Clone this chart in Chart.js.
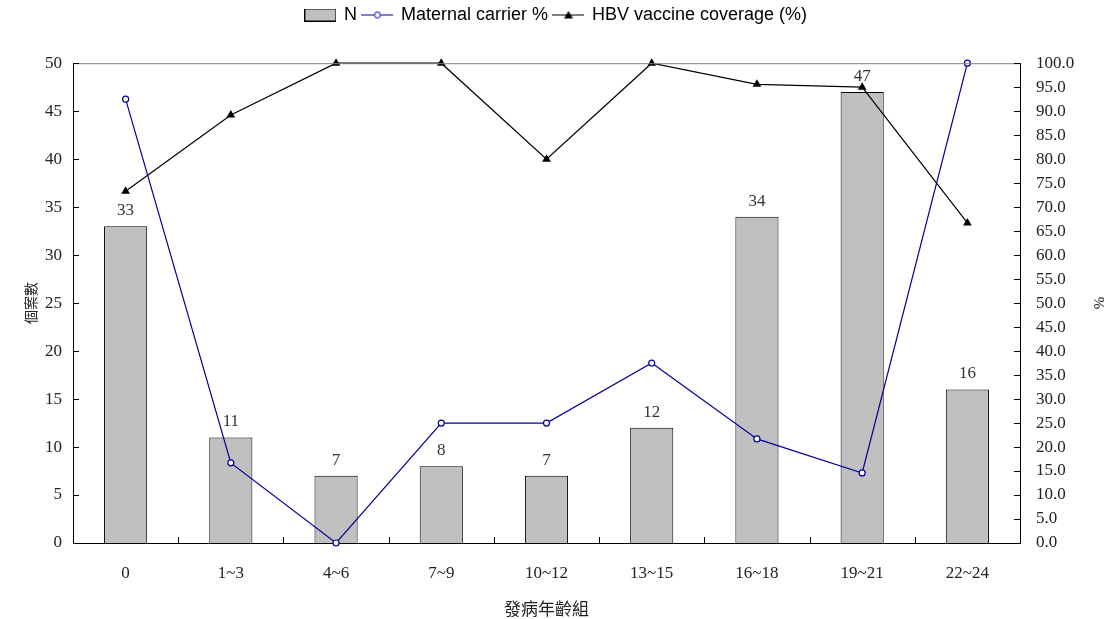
<!DOCTYPE html>
<html>
<head>
<meta charset="utf-8">
<script src="https://cdn.jsdelivr.net/npm/chart.js@4/dist/chart.umd.min.js"></script>
<style>
  html, body { margin: 0; padding: 0; background: #fff; }
  #wrap { width: 1113px; height: 619px; }
</style>
</head>
<body>
<div id="wrap"><canvas id="chart"></canvas></div>
<script>
"use strict";

// data
var ageGroups = ["0", "1~3", "4~6", "7~9", "10~12", "13~15", "16~18", "19~21", "22~24"];
var caseCounts = [33, 11, 7, 8, 7, 12, 34, 47, 16];
var maternalCarrier = [92.5, 16.7, 0, 25.0, 25.0, 37.5, 21.7, 14.6, 100];
var vaccineCoverage = [73.3, 89.2, 100, 100, 80.0, 100, 95.6, 95.0, 66.7];

var serif = "'Liberation Serif', 'Times New Roman', serif";
var sans = "'Liberation Sans', Arial, sans-serif";
var cjk = "'Noto Sans CJK TC', 'Noto Sans CJK SC', sans-serif";
var navy = "#000099";

// little pictures for the legend (line + marker / box)
function legendIcon(kind) {
  var c = document.createElement("canvas");
  c.width = 32;
  c.height = 13;
  var g = c.getContext("2d");
  if (kind == "bar") {
    g.fillStyle = "#c0c0c0";
    g.fillRect(0, 0, 32, 13);
    g.strokeStyle = "#000";
    g.lineWidth = 1;
    g.strokeRect(0.5, 0.5, 31, 12);
  } else {
    var col = kind == "circle" ? navy : "#000";
    g.strokeStyle = col;
    g.lineWidth = 1;
    g.beginPath();
    g.moveTo(0, 6.5);
    g.lineTo(32, 6.5);
    g.stroke();
    if (kind == "circle") {
      g.beginPath();
      g.arc(16, 6.5, 3, 0, Math.PI * 2);
      g.fillStyle = "#fff";
      g.fill();
      g.stroke();
    } else {
      g.beginPath();
      g.moveTo(16, 2.5);
      g.lineTo(20.5, 10);
      g.lineTo(11.5, 10);
      g.closePath();
      g.fillStyle = "#000";
      g.fill();
    }
  }
  return c;
}
var icons = [legendIcon("bar"), legendIcon("circle"), legendIcon("tri")];

// inside tick marks, frame top line and value labels over the bars
var decorations = {
  id: "decorations",
  afterDatasetsDraw: function(chart) {
    var ctx = chart.ctx;
    var area = chart.chartArea;
    var x = chart.scales.x, y = chart.scales.y, y1 = chart.scales.y1;
    ctx.save();
    ctx.lineWidth = 1;
    ctx.strokeStyle = "#808080";
    ctx.beginPath();
    ctx.moveTo(area.left, area.top + 0.5);
    ctx.lineTo(area.right, area.top + 0.5);
    ctx.stroke();

    ctx.strokeStyle = "#000";
    ctx.beginPath();
    y.ticks.forEach(function(t) {
      var py = Math.round(y.getPixelForValue(t.value)) + 0.5;
      ctx.moveTo(area.left, py);
      ctx.lineTo(area.left + 6, py);
    });
    y1.ticks.forEach(function(t) {
      var py = Math.round(y1.getPixelForValue(t.value)) + 0.5;
      ctx.moveTo(area.right, py);
      ctx.lineTo(area.right - 6, py);
    });
    for (var i = 0; i < ageGroups.length - 1; i++) {
      var px = Math.round((x.getPixelForValue(i) + x.getPixelForValue(i + 1)) / 2) + 0.5;
      ctx.moveTo(px, area.bottom);
      ctx.lineTo(px, area.bottom - 6);
    }
    ctx.stroke();

    var meta = chart.getDatasetMeta(0);
    ctx.fillStyle = "#333";
    ctx.font = "17px " + serif;
    ctx.textAlign = "center";
    ctx.textBaseline = "bottom";
    meta.data.forEach(function(bar, i) {
      ctx.fillText(String(caseCounts[i]), bar.x, bar.y - 7);
    });
    ctx.restore();
  }
};

var ctx = document.getElementById("chart").getContext("2d");
var myChart = new Chart(ctx, {
  type: "bar",
  data: {
    labels: ageGroups,
    datasets: [{
      label: "N",
      data: caseCounts,
      yAxisID: "y",
      backgroundColor: "#c0c0c0",
      borderColor: "#000",
      borderWidth: 1,
      barPercentage: 0.41,
      categoryPercentage: 1,
      order: 3
    }, {
      type: "line",
      label: "Maternal carrier %",
      data: maternalCarrier,
      yAxisID: "y1",
      borderColor: navy,
      borderWidth: 1.2,
      pointStyle: "circle",
      pointRadius: 3,
      pointBackgroundColor: "#fff",
      pointBorderColor: navy,
      pointBorderWidth: 1.2,
      tension: 0,
      clip: false,
      order: 1
    }, {
      type: "line",
      label: "HBV vaccine coverage (%)",
      data: vaccineCoverage,
      yAxisID: "y1",
      borderColor: "#000",
      borderWidth: 1.2,
      pointStyle: "triangle",
      pointRadius: 5,
      pointBackgroundColor: "#000",
      pointBorderColor: "#000",
      pointBorderWidth: 0,
      tension: 0,
      clip: false,
      order: 2
    }]
  },
  options: {
    responsive: true,
    maintainAspectRatio: false,
    animation: false,
    layout: { padding: 0 },
    plugins: {
      legend: {
        position: "top",
        labels: {
          usePointStyle: true,
          pointStyleWidth: 29,
          padding: 6,
          color: "#000",
          font: { family: sans, size: 18 },
          generateLabels: function(chart) {
            return chart.data.datasets.map(function(ds, i) {
              return {
                text: ds.label,
                pointStyle: icons[i],
                fillStyle: "#fff",
                strokeStyle: "#fff",
                lineWidth: 0,
                hidden: false,
                datasetIndex: i
              };
            });
          }
        }
      },
      subtitle: {
        display: true,
        text: "",
        weight: 500,
        font: { size: 1 },
        padding: { top: 28, bottom: 0 }
      },
      tooltip: { enabled: false }
    },
    scales: {
      x: {
        offset: true,
        grid: { display: false, drawTicks: false },
        border: { display: true, color: "#000", width: 1 },
        ticks: { color: "#222", font: { family: serif, size: 17 }, padding: 20 },
        title: { display: true, text: "發病年齡組", color: "#222", font: { family: cjk, size: 17 }, padding: { top: 3, bottom: 0 } },
        afterFit: function(scale) { scale.height = 76; }
      },
      y: {
        position: "left",
        min: 0,
        max: 50,
        ticks: { stepSize: 5, color: "#222", font: { family: serif, size: 17 }, padding: 11 },
        grid: { display: false, drawTicks: false },
        border: { display: true, color: "#000", width: 1 },
        title: { display: true, text: "個案數", color: "#222", font: { family: cjk, size: 14 }, padding: { top: 22, bottom: 0 } },
        afterFit: function(scale) { scale.width = 73; }
      },
      y1: {
        position: "right",
        min: 0,
        max: 100,
        ticks: {
          stepSize: 5,
          color: "#222",
          font: { family: serif, size: 17 },
          padding: 16,
          callback: function(v) { return Number(v).toFixed(1); }
        },
        grid: { display: false, drawTicks: false },
        border: { display: true, color: "#000", width: 1 },
        title: { display: true, text: "%", color: "#222", font: { family: serif, size: 15 }, padding: { top: 6, bottom: 0 } },
        afterFit: function(scale) { scale.width = 93; }
      }
    }
  },
  plugins: [decorations]
});
</script>
</body>
</html>
